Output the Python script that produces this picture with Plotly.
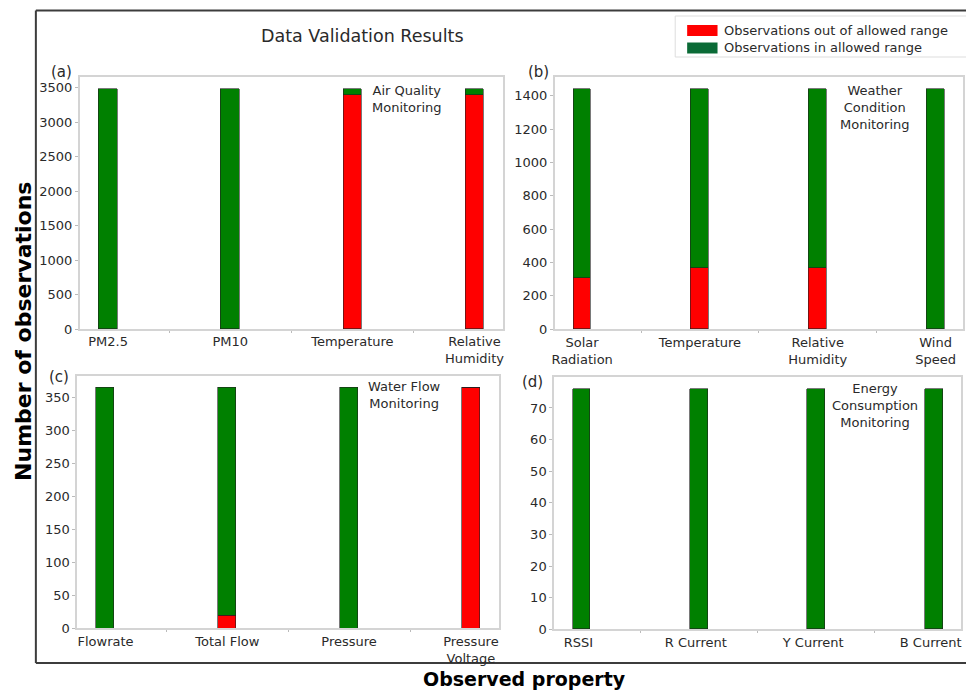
import plotly.graph_objects as go

W, H = 966, 692          # reference picture size (all pixel positions below refer to it)
CANVAS_H = 700           # figure height

# ---------------- data ----------------
cats_a = ["PM2.5", "PM10", "Temperature", "Relative<br>Humidity"]
out_a = [0, 0, 3400, 3400]
in_a = [3480, 3480, 80, 80]

cats_b = ["Solar<br>Radiation", "Temperature", "Relative<br>Humidity", "Wind<br>Speed"]
out_b = [305, 365, 365, 0]
in_b = [1135, 1075, 1075, 1440]

cats_c = ["Flowrate", "Total Flow", "Pressure", "Pressure<br>Voltage"]
out_c = [0, 20, 0, 365]
in_c = [365, 345, 365, 0]

cats_d = ["RSSI", "R Current", "Y Current", "B Current"]
out_d = [0, 0, 0, 0]
in_d = [76, 76, 76, 76]

yticks_a = [0, 500, 1000, 1500, 2000, 2500, 3000, 3500]
yticks_b = [0, 200, 400, 600, 800, 1000, 1200, 1400]
yticks_c = [0, 50, 100, 150, 200, 250, 300, 350]
yticks_d = [0, 10, 20, 30, 40, 50, 60, 70]

panel_labels = ["(a)", "(b)", "(c)", "(d)"]
panel_notes = ["Air Quality<br>Monitoring",
               "Weather<br>Condition<br>Monitoring",
               "Water Flow<br>Monitoring",
               "Energy<br>Consumption<br>Monitoring"]
legend_names = ["Observations out of allowed range", "Observations in allowed range"]

RED = "#ff0000"
GREEN = "#008000"
LEG_GREEN = "#0a6a36"
FONT = "DejaVu Sans"
TXT = "#2a2a2a"

# ---------------- layout geometry (pixels) ----------------
panels = [
    dict(x0=77, x1=502, y0=77, y1=329, cats=cats_a, out=out_a, inn=in_a, ticks=yticks_a,
         lab=(59, 72), note=(406, 98.7), shift=0),
    dict(x0=554, x1=964, y0=77, y1=329.3, cats=cats_b, out=out_b, inn=in_b, ticks=yticks_b,
         lab=(538, 71.7), note=(876, 107), shift=0),
    dict(x0=74.5, x1=498.3, y0=375.5, y1=628.3, cats=cats_c, out=out_c, inn=in_c, ticks=yticks_c,
         lab=(56, 376.7), note=(403.3, 395.3), shift=0),
    dict(x0=553.3, x1=962, y0=377, y1=629.3, cats=cats_d, out=out_d, inn=in_d, ticks=yticks_d,
         lab=(532, 381.7), note=(876, 405), shift=-3),
]

def px(x):
    return x / W

def py(y):
    return 1 - y / H

fig = go.Figure()
BAR_W = 0.15
xpos = [0, 1, 2, 3]

for i, p in enumerate(panels):
    n = "" if i == 0 else str(i + 1)
    xa, ya = "x" + n, "y" + n
    fig.add_trace(go.Bar(x=xpos, y=p["out"], width=BAR_W, marker=dict(color=RED, line=dict(color="#202020", width=0.6)),
                         xaxis=xa, yaxis=ya, showlegend=False, name=legend_names[0]))
    fig.add_trace(go.Bar(x=xpos, y=p["inn"], width=BAR_W, marker=dict(color=GREEN, line=dict(color="#202020", width=0.6)),
                         xaxis=xa, yaxis=ya, showlegend=False, name=legend_names[1]))
    totals = [a + b for a, b in zip(p["out"], p["inn"])]
    ymax = max(totals) * 1.05
    fig.update_layout(**{
        "xaxis" + n: dict(domain=[px(p["x0"]), px(p["x1"])], anchor=ya,
                          range=[-0.2325, 3.2325], tickmode="array", tickvals=xpos, ticktext=p["cats"],
                          ticks="", showline=True, mirror=True, linecolor="#d4d4d4", linewidth=1.5,
                          showgrid=False, zeroline=False, fixedrange=True, ticklabeloverflow="allow",
                          ticklabelshift=p["shift"],
                          tickfont=dict(family=FONT, size=13, color=TXT),
                          minor=dict(tickmode="array", tickvals=[0.5, 1.5, 2.5], ticks="outside",
                                     ticklen=2, tickcolor="#bbbbbb", tickwidth=1)),
        "yaxis" + n: dict(domain=[py(p["y1"]), py(p["y0"])], anchor=xa,
                          range=[0, ymax], tickmode="array", tickvals=p["ticks"],
                          ticks="outside", ticklen=3, tickcolor="#bbbbbb", tickwidth=1,
                          showline=True, mirror=True, linecolor="#d4d4d4", linewidth=1.5,
                          showgrid=False, zeroline=False, fixedrange=True,
                          tickfont=dict(family=FONT, size=13, color=TXT)),
    })
    fig.add_annotation(x=px(p["lab"][0]), y=py(p["lab"][1]), xref="paper", yref="paper",
                       text=panel_labels[i], showarrow=False, xanchor="center", yanchor="middle",
                       font=dict(family=FONT, size=15, color=TXT))
    fig.add_annotation(x=px(p["note"][0]), y=py(p["note"][1]), xref="paper", yref="paper",
                       text=panel_notes[i], showarrow=False, xanchor="center", yanchor="middle",
                       align="center", font=dict(family=FONT, size=13, color=TXT))

# outer frame: top, left and bottom sides (the right side lies beyond the picture)
FRAME = dict(color="#3c3c3c", width=2)
for (xa0, ya0, xa1, ya1) in [(33, 10.5, 1000, 10.5), (33, 10.5, 33, 663), (33, 663, 1000, 663)]:
    fig.add_shape(type="line", xref="paper", yref="paper", x0=px(xa0), y0=py(ya0), x1=px(xa1), y1=py(ya1),
                  line=FRAME, layer="below")

# title
fig.add_annotation(x=px(361), y=py(36), xref="paper", yref="paper", text="Data Validation Results",
                   showarrow=False, xanchor="center", yanchor="middle",
                   font=dict(family=FONT, size=17.5, color=TXT))

# legend (manual): open on the right side, like the cropped reference
LEGBOX = dict(color="#dddddd", width=1)
for (xa0, ya0, xa1, ya1) in [(675, 16, 1000, 16), (675, 16, 675, 57), (675, 57, 1000, 57)]:
    fig.add_shape(type="line", xref="paper", yref="paper", x0=px(xa0), y0=py(ya0), x1=px(xa1), y1=py(ya1),
                  line=LEGBOX)
leg_colors = [RED, LEG_GREEN]
leg_y = [30.5, 48]
for name, col, yy in zip(legend_names, leg_colors, leg_y):
    fig.add_shape(type="rect", xref="paper", yref="paper", x0=px(687), x1=px(717.5),
                  y0=py(yy + 5.5), y1=py(yy - 5.5), line=dict(width=0), fillcolor=col)
    fig.add_annotation(x=px(722), y=py(yy), xref="paper", yref="paper", text=name, showarrow=False,
                       xanchor="left", yanchor="middle", font=dict(family=FONT, size=13, color=TXT))

# axis titles
fig.add_annotation(x=px(524), y=py(679), xref="paper", yref="paper", text="<b>Observed property</b>",
                   showarrow=False, xanchor="center", yanchor="middle",
                   font=dict(family=FONT, size=19, color="#000000"))
fig.add_annotation(x=px(20), y=py(331), xref="paper", yref="paper", text="<b>Number of observations</b>",
                   showarrow=False, xanchor="center", yanchor="middle", textangle=-90,
                   font=dict(family=FONT, size=22, color="#000000"))

fig.update_layout(width=W, height=CANVAS_H, margin=dict(l=0, r=0, t=0, b=0), barmode="stack",
                  bargap=0, plot_bgcolor="white", paper_bgcolor="white", showlegend=False,
                  hovermode=False)

fig.write_html("out.html", config={"displayModeBar": False},
               post_script=(
                   "var b=document.body;"
                   "b.style.margin='0';b.style.padding='0';b.style.overflow='hidden';"
               ))
